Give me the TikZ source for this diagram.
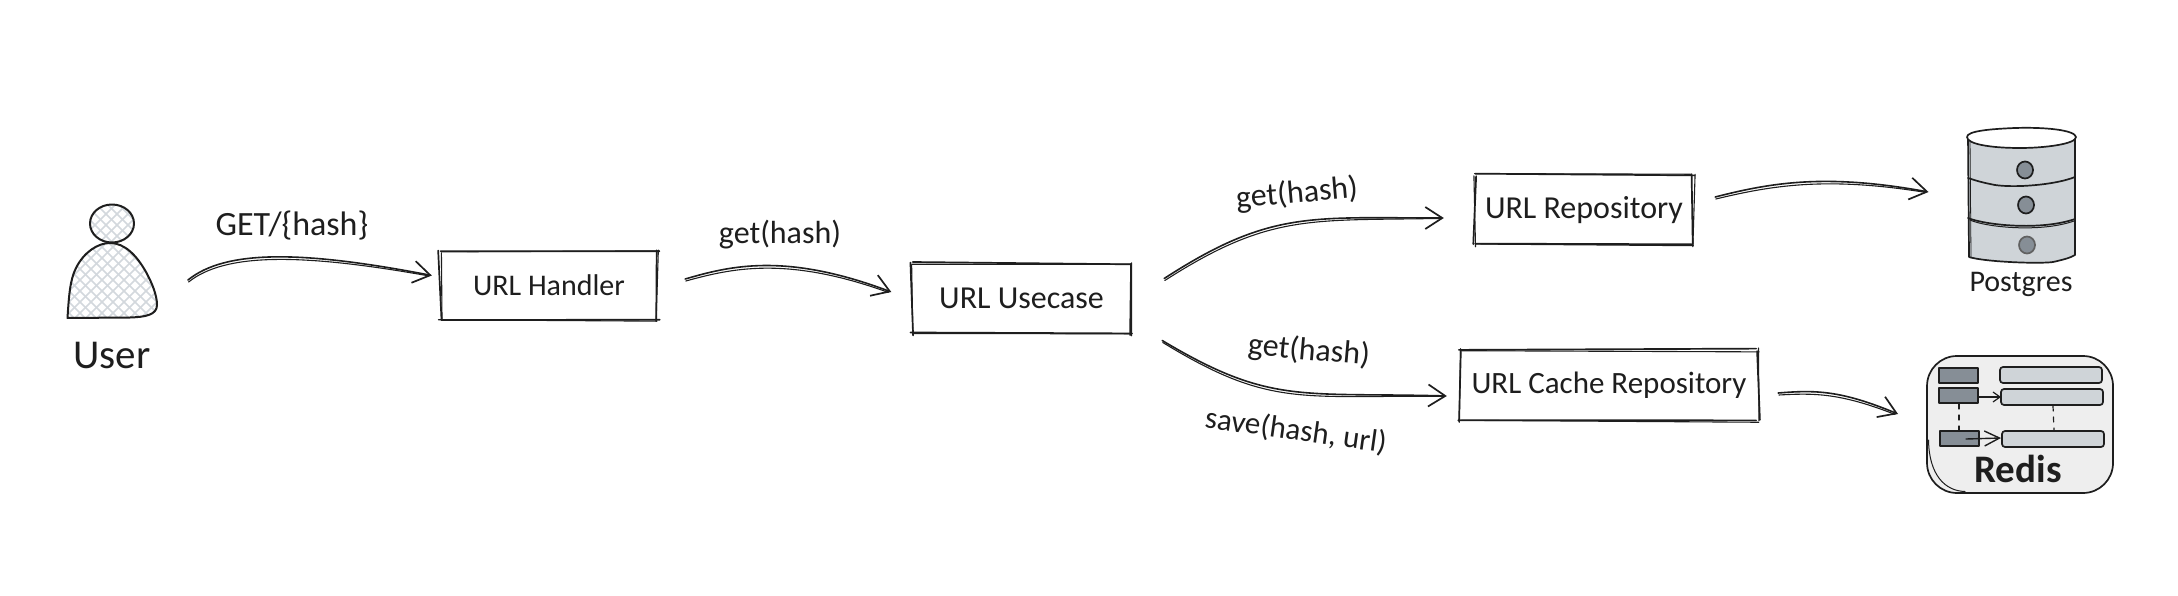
\documentclass[tikz,border=0pt]{standalone}
\usepackage{fontspec}
\setmainfont{Carlito}
\usetikzlibrary{arrows.meta,calc}
\definecolor{ink}{HTML}{1E1E1E}
\definecolor{hatch}{HTML}{D3D8DD}
\definecolor{dbfill}{HTML}{CFD4D8}
\definecolor{dbdark}{HTML}{868E96}
\definecolor{redisbg}{HTML}{EEEEEE}
\newcommand{\fsz}[1]{\fontsize{#1}{#1}\selectfont}
\tikzset{
  sk/.style={draw=ink,line width=1.7pt,line cap=round,line join=round},
  thinsk/.style={draw=ink,line width=1pt,line cap=round,line join=round},
  conn/.style={sk,line width=1.6pt},
  tip/.style={-{Straight Barb[length=17pt,width=22pt,line width=1.7pt]}},
  txt/.style={text=ink,inner sep=0pt},
  boxtxt/.style={txt,align=center},
  keep/.style={inner sep=0pt,outer sep=0pt}
}
\newcommand{\skside}[4]{%
  \draw[sk] ({#1+2*rand},{#2+1.6*rand}) -- ({#3+2*rand},{#4+1.6*rand});
  \draw[sk,line width=1.1pt] ({#1+2.4*rand},{#2+2*rand}) -- ({#3+2.4*rand},{#4+2*rand});}
\newcommand{\skbox}[7]{%
  \node[boxtxt,font=\fsz{#7},minimum width={(#4-#2)*1pt},minimum height={(#5-#3)*1pt}] (#1) at ({(#2+#4)/2},{(#3+#5)/2}) {#6};
  \skside{#2}{#3}{#4}{#3}\skside{#4}{#3}{#4}{#5}\skside{#4}{#5}{#2}{#5}\skside{#2}{#5}{#2}{#3}}
\newcommand{\skarrow}[4]{%
  \draw[conn,tip] (#1) .. controls (#2) and (#3) .. (#4);
  \draw[conn,line width=1.1pt] ([shift={(0.6,2)}]#1) .. controls ([shift={(0,3)}]#2) and ([shift={(0,3)}]#3) .. ([shift={(-3,0.4)}]#4);}
\begin{document}
\begin{tikzpicture}[x=1pt,y=-1pt]
\pgfmathsetseed{4242}
\fill[white] (0,0) rectangle (2178,596);
\useasboundingbox (0,0) rectangle (2178,596);
% user
\begin{scope}
  \clip (112,223.5) ellipse [x radius=22pt,y radius=19pt];
  \foreach \k in {0,...,16}{\draw[hatch,line width=1.5pt] (60+11*\k,190) -- (60+11*\k+70,260); \draw[hatch,line width=1.5pt] (60+11*\k,260) -- (60+11*\k+70,190);}
\end{scope}
\begin{scope}
  \clip (67.5,318) .. controls (69,295) and (70,280) .. (76,268) .. controls (84,252) and (98,243) .. (110,243) .. controls (125,243) and (137,256) .. (146,272) .. controls (152,283) and (157,295) .. (157,305) .. controls (157,315) and (145,317) .. (130,317.5) -- cycle;
  \foreach \k in {-8,...,26}{\draw[hatch,line width=1.5pt] (-20+11*\k,235) -- (-20+11*\k+90,325); \draw[hatch,line width=1.5pt] (-20+11*\k,325) -- (-20+11*\k+90,235);}
\end{scope}
\draw[sk,line width=2pt] (112,223.5) ellipse [x radius=22pt,y radius=19pt];
\draw[sk,line width=2pt] (67.5,318) .. controls (69,295) and (70,280) .. (76,268) .. controls (84,252) and (98,243) .. (110,243) .. controls (125,243) and (137,256) .. (146,272) .. controls (152,283) and (157,295) .. (157,305) .. controls (157,315) and (145,317) .. (130,317.5) -- cycle;
\node[keep,minimum width=90pt,minimum height=113pt] (user) at (112,261) {};
\node[txt,font=\fsz{41}] (userlabel) at (112,355) {User};
% boxes
\skbox{handler}{440}{251}{658}{320}{URL Handler}{30}
\skbox{usecase}{912}{263}{1131}{334}{URL Usecase}{32}
\skbox{repo}{1475}{175}{1693}{245}{URL Repository}{32}
\skbox{cache}{1460}{350}{1758}{421}{URL Cache Repository}{31}
% postgres
\fill[dbfill] (1968,137) -- (1969,257) .. controls (1985,262) and (2040,264) .. (2053,262) .. controls (2062,260) and (2070,258) .. (2075,255) -- (2075,137) -- cycle;
\draw[sk] (1968,137) -- (1969,257) .. controls (1985,262) and (2040,264) .. (2053,262) .. controls (2062,260) and (2070,258) .. (2075,255) -- (2075,137);
\draw[thinsk,line width=.8pt] (1970,140) -- (1971,258);
\draw[sk,fill=white] (1967,137) .. controls (1967,131) and (1990,129) .. (2015,128) .. controls (2045,127) and (2075,130) .. (2076,137) .. controls (2076,144) and (2045,148) .. (2020,148) .. controls (1990,148) and (1967,144) .. (1967,137) -- cycle;
\draw[sk] (1968,178) .. controls (1980,182) and (1985,183) .. (1995,185) .. controls (2015,188) and (2055,185) .. (2075,177);
\draw[sk] (1968,218) .. controls (1985,225) and (2040,231) .. (2075,219);
\draw[thinsk] (1970,220) .. controls (1985,227) and (2040,233) .. (2074,221);
\filldraw[sk,fill=dbdark] (2025,170) ellipse [x radius=8pt,y radius=8.5pt];
\filldraw[sk,fill=dbdark] (2026,205) ellipse [x radius=8pt,y radius=8.5pt];
\filldraw[sk,fill=dbdark,draw=ink!70] (2027,245) ellipse [x radius=8pt,y radius=8.5pt];
\node[keep,minimum width=109pt,minimum height=136pt] (postgres) at (2021.5,195) {};
\node[txt,font=\fsz{30}] (pglabel) at (2021,284) {Postgres};
% redis
\fill[redisbg,rounded corners=30pt] (1927,356) rectangle (2113,493);
\draw[sk,rounded corners=30pt] (1927,356) rectangle (2113,493);
\draw[thinsk] (1928.5,440) .. controls (1929,475) and (1945,491) .. (1965,491.5);
\filldraw[sk,fill=dbdark] (1939,368) rectangle (1978,383);
\filldraw[sk,fill=dbdark] (1939,388) rectangle (1978,403);
\filldraw[sk,fill=dbdark] (1940,431) rectangle (1979,446);
\filldraw[sk,fill=dbfill,rounded corners=3pt] (2000,367) rectangle (2102,383);
\filldraw[sk,fill=dbfill,rounded corners=3pt] (2001,389) rectangle (2103,405);
\filldraw[sk,fill=dbfill,rounded corners=3pt] (2002,431) rectangle (2104,447);
\draw[thinsk,line width=1.2pt,-{Straight Barb[length=7pt,width=10pt,line width=1.2pt]}] (1979,397) -- (2001,397);
\draw[sk,line width=1.4pt,-{Straight Barb[length=15pt,width=15pt,line width=1.4pt]}] (1966,439) -- (2001,438);
\draw[thinsk,line width=1.2pt,dash pattern=on 5pt off 6pt] (1959,404) -- (1959,430);
\draw[thinsk,line width=1.2pt,dash pattern=on 5pt off 6pt] (2053,406) -- (2054,431);
\node[keep,minimum width=186pt,minimum height=137pt] (redis) at (2020,424.5) {};
\node[txt,font=\fsz{39}\bfseries] (redislabel) at (2018,469) {Redis};
% connector ends
\coordinate (a1s) at ([shift={(31,19)}]user.east);
\coordinate (a1e) at ([shift={(-8,-10)}]handler.west);
\coordinate (a2s) at ([shift={(27,-6.5)}]handler.east);
\coordinate (a2e) at ([shift={(-20.5,-6.5)}]usecase.west);
\coordinate (a3s) at ([shift={(33,-20)}]usecase.east);
\coordinate (a3e) at ([shift={(-31,8)}]repo.west);
\coordinate (a4s) at ([shift={(31,42)}]usecase.east);
\coordinate (a4e) at ([shift={(-13,10.5)}]cache.west);
\coordinate (a5s) at ([shift={(22,-13)}]repo.east);
\coordinate (a5e) at ([shift={(-38.5,-3)}]postgres.west);
\coordinate (a6s) at ([shift={(20,7.5)}]cache.east);
\coordinate (a6e) at ([shift={(-29,-10.5)}]redis.west);
\skarrow{a1s}{225,250}{300,250}{a1e}
\skarrow{a2s}{730,266}{785,252}{a2e}
\skarrow{a3s}{1270,210}{1310,218}{a3e}
\skarrow{a4s}{1270,405}{1300,392}{a4e}
\skarrow{a5s}{1770,183}{1825,173}{a5e}
\skarrow{a6s}{1815,390}{1840,390}{a6e}
% labels
\node[txt,font=\fsz{34}] (l1) at (292,226) {GET/\{hash\}};
\node[txt,font=\fsz{32}] (l2) at (780,235) {get(hash)};
\node[txt,font=\fsz{32},rotate=5] (l3) at (1297,194) {get(hash)};
\node[txt,font=\fsz{32},rotate=-5] (l4) at (1309,351) {get(hash)};
\node[txt,font=\fsz{31},rotate=-8] (l5) at (1296,431) {save(hash, url)};
\end{tikzpicture}
\end{document}
